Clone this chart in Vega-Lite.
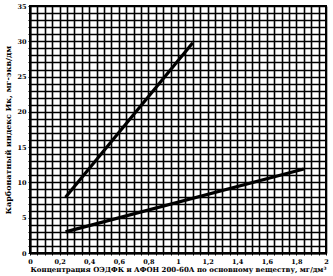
{
  "$schema": "https://vega.github.io/schema/vega-lite/v6.json",
  "width": 296,
  "height": 247,
  "autosize": {"type": "none"},
  "padding": {"left": 30, "top": 6, "right": 7, "bottom": 23},
  "background": "white",
  "config": {
    "view": {"stroke": "black", "strokeWidth": 2},
    "axis": {
      "labelFont": "DejaVu Serif",
      "labelFontWeight": "bold",
      "labelFontSize": 6.5,
      "labelColor": "black",
      "titleFont": "DejaVu Serif",
      "titleFontWeight": "bold",
      "titleFontSize": 7,
      "titleColor": "black",
      "domainColor": "black",
      "domainWidth": 2,
      "tickColor": "black"
    }
  },
  "data": {
    "values": [
      {"series": "A", "x": 0.24, "y": 7.9},
      {"series": "A", "x": 1.1, "y": 29.8},
      {"series": "B", "x": 0.24, "y": 3.0},
      {"series": "B", "x": 1.85, "y": 11.9}
    ]
  },
  "mark": {"type": "line", "strokeWidth": 3.2, "color": "black"},
  "encoding": {
    "detail": {"field": "series"},
    "x": {
      "field": "x",
      "type": "quantitative",
      "scale": {"domain": [0, 2], "nice": false},
      "axis": {
        "grid": true,
        "gridColor": "#000000",
        "gridOpacity": 1,
        "gridWidth": 1.6,
        "values": [0,0.05,0.1,0.15,0.2,0.25,0.3,0.35,0.4,0.45,0.5,0.55,0.6,0.65,0.7,0.75,0.8,0.85,0.9,0.95,1,1.05,1.1,1.15,1.2,1.25,1.3,1.35,1.4,1.45,1.5,1.55,1.6,1.65,1.7,1.75,1.8,1.85,1.9,1.95,2],
        "labelExpr": "abs(datum.value*5 - round(datum.value*5)) < 0.001 ? replace(format(datum.value, '~g'), '.', ',') : ''",
        "tickSize": 2,
        "labelPadding": 3,
        "labelOverlap": false,
        "labelFlush": false,
        "title": "Концентрация ОЭДФК и АФОН 200-60А по основному веществу, мг/дм³",
        "titlePadding": 1
      }
    },
    "y": {
      "field": "y",
      "type": "quantitative",
      "scale": {"domain": [0, 35], "nice": false},
      "axis": {
        "grid": true,
        "gridColor": "#000000",
        "gridOpacity": 1,
        "gridWidth": 1.6,
        "values": [0,1,2,3,4,5,6,7,8,9,10,11,12,13,14,15,16,17,18,19,20,21,22,23,24,25,26,27,28,29,30,31,32,33,34,35],
        "labelExpr": "datum.value % 5 == 0 ? datum.label : ''",
        "tickSize": 2,
        "labelPadding": 2,
        "labelOverlap": false,
        "labelFlush": false,
        "title": "Карбонатный индекс Ик, мг-экв/дм",
        "titleFontSize": 8,
        "titlePadding": 4
      }
    }
  }
}
